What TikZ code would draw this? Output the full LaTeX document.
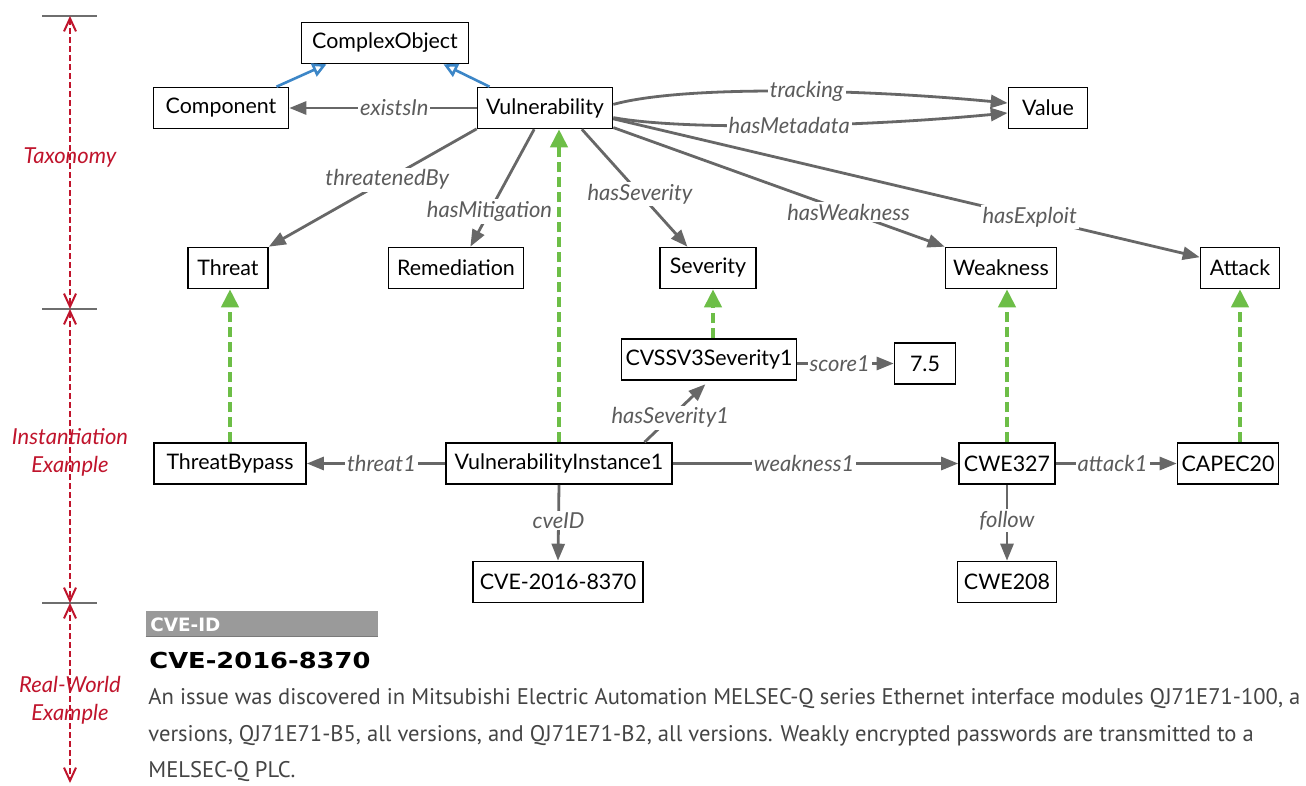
\documentclass[tikz,border=0pt]{standalone}
\usepackage{fontspec}
\setmainfont{Lato}
\newfontfamily\parafont{PT Sans}
\newfontfamily\headfont{DejaVu Sans}
\usetikzlibrary{arrows.meta,calc}

\definecolor{edgegray}{HTML}{676767}
\definecolor{labelgray}{HTML}{5C5C5C}
\definecolor{instgreen}{HTML}{6DBE47}
\definecolor{isablue}{HTML}{3C86C7}
\definecolor{scalered}{HTML}{C0142C}
\definecolor{tickgray}{HTML}{6E6E6E}
\definecolor{bargray}{HTML}{9A9A9A}
\definecolor{bardark}{HTML}{7A7A7A}
\definecolor{paragray}{HTML}{444444}

\tikzset{
  box/.style={draw=black, line width=0.8pt, fill=white, minimum height=20.5pt,
    inner xsep=2pt, inner ysep=0pt, font=\fontsize{10.7}{12}\selectfont},
  rel/.style={draw=edgegray, line width=1.4pt,
    -{Triangle[length=8.5pt,width=6.5pt]}},
  lbl/.style={fill=white, inner sep=1pt, text=labelgray,
    font=\fontsize{11}{12}\selectfont\itshape},
  inst/.style={draw=instgreen, line width=2pt, dash pattern=on 5pt off 2.5pt,
    -{Triangle[length=9pt,width=8.5pt]}},
  isa/.style={draw=isablue, line width=1.3pt,
    -{Triangle[open,length=7pt,width=7pt]}},
  span/.style={draw=scalered, line width=1pt, dash pattern=on 3pt off 1.5pt,
    {Straight Barb[length=6.5pt,width=6pt]}-{Straight Barb[length=6.5pt,width=6pt]}},
  tickline/.style={draw=tickgray, line width=1.2pt},
  layer/.style={text=scalered, align=center,
    font=\fontsize{11}{14}\selectfont\itshape},
  para/.style={anchor=base west, inner sep=0pt, text=paragray,
    font=\parafont\fontsize{11.3}{12}\selectfont},
}

\begin{document}
\begin{tikzpicture}[x=0.5pt, y=-0.5pt]
\useasboundingbox[fill=white] (0,0) rectangle (1306,786);

% ---------- taxonomy ----------
\node[box, minimum width=83.5pt] (CO)   at (385,43)  {ComplexObject};
\node[box, minimum width=67.5pt] (Comp) at (221,108) {Component};
\node[box, minimum width=67.5pt] (Vul)  at (545,108) {Vulnerability};
\node[box, minimum width=39.5pt] (Val)  at (1048,108) {Value};
\node[box, minimum width=40pt]   (Thr)  at (228,268) {Threat};
\node[box, minimum width=67.5pt] (Rem)  at (456,268) {Remediation};
\node[box, minimum width=48pt]   (Sev)  at (708,268) {Severity};
\node[box, minimum width=55.5pt] (Weak) at (1001,268) {Weakness};
\node[box, minimum width=39.5pt] (Att)  at (1240,268) {Attack};

% ---------- instances ----------
\node[box, minimum width=85pt]   (CVSS)   at (709,359.5) {CVSSV3Severity1};
\node[box, minimum width=30.5pt] (Score)  at (925,363.5) {7.5};
\node[box, minimum width=76pt]   (TB)     at (230,463.5) {ThreatBypass};
\node[box, minimum width=113pt]  (VI)     at (559,463.5) {VulnerabilityInstance1};
\node[box, minimum width=48pt]   (CWEa)   at (1007,463.5) {CWE327};
\node[box, minimum width=50.5pt] (CAPEC)  at (1228,463.5) {CAPEC20};
\node[box, minimum width=85pt]   (CVE)    at (558,582) {CVE-2016-8370};
\node[box, minimum width=49.5pt] (CWEb)   at (1007,582) {CWE208};

% ---------- subclass links ----------
\draw[isa] (Comp.21.5) -- (CO.200);
\draw[isa] (Vul.159) -- (CO.340);

% ---------- taxonomy relations ----------
\draw[rel] (Vul.west) -- (Comp.east) node[lbl, pos=0.44] {existsIn};
\draw[rel] (Vul.3) .. controls (680,86) and (850,88) .. (Val.173)
  node[lbl, pos=0.57] {tracking};
\draw[rel] (Vul.-8) .. controls (680,130) and (850,128) .. (Val.187)
  node[lbl, pos=0.53] {hasMetadata};
\draw[rel] (Vul.197) -- (Thr.north east) node[lbl, pos=0.43] {threatenedBy};
\draw[rel] (Vul.243) -- (Rem.56) node[lbl, pos=0.7] {hasMitigation};
\draw[rel] (Vul.330) -- (Sev.134) node[lbl, pos=0.55] {hasSeverity};
\draw[rel] (Vul.344) -- (Weak.north west) node[lbl, pos=0.71] {hasWeakness};
\draw[rel] (Vul.351.5) -- (Att.165) node[lbl, pos=0.71] {hasExploit};

% ---------- instance-of links ----------
\draw[inst] (TB.north) -- (TB.north |- Thr.south);
\draw[inst] (VI.north) -- (VI.north |- Vul.south);
\draw[inst] ($(CVSS.north -| Sev.south)+(5,0)$) -- ($(Sev.south)+(5,0)$);
\draw[inst] (CWEa.north) -- (CWEa.north |- Weak.south);
\draw[inst] (CAPEC.north -| Att.south) -- (Att.south);

% ---------- instance relations ----------
\draw[rel] (VI.west) -- (TB.east) node[lbl, pos=0.46] {threat1};
\draw[rel, shorten >=2.5pt] (VI.14) -- (CVSS.south) node[lbl, pos=0.4] {hasSeverity1};
\draw[rel] (CVSS.east |- Score.west) -- (Score.west) node[lbl, pos=0.44] {score1};
\draw[rel] (VI.east) -- (CWEa.west) node[lbl, pos=0.46] {weakness1};
\draw[rel] (CWEa.east) -- (CAPEC.west) node[lbl, pos=0.47] {attack1};
\draw[rel] (VI.south) -- (CVE.north) node[lbl, pos=0.47] {cveID};
\draw[rel] (CWEa.south) -- (CWEb.north) node[lbl, pos=0.47] {follow};

% ---------- layer scale ----------
\coordinate (s0) at (70,16);
\coordinate (s1) at (70,309);
\coordinate (s2) at (70,603);
\coordinate (s3) at (70,783);
\foreach \c in {s0,s1,s2}
  \draw[tickline] ($(\c)+(-28,0)$) -- ($(\c)+(27,0)$);
\draw[span] (s0) -- (s1);
\draw[span] (s1) -- (s2);
\draw[span] (s2) -- (s3);
\node[layer] (taxlab)  at (70,158) {Taxonomy};
\node[layer] (instlab) at (70,452) {Instantiation\\Example};
\node[layer] (reallab) at (70,700) {Real-World\\Example};

% ---------- real-world record ----------
\node[fill=bargray, minimum width=116pt, minimum height=12.5pt, inner sep=0pt]
  (bar) at (262,623.5) {};
\draw[bardark, line width=0.8pt] (bar.south west) -- (bar.south east);
\node[anchor=base west, inner sep=0pt, text=white,
  font=\headfont\bfseries\fontsize{9.2}{11}\selectfont]
  (barlab) at (150,631) {CVE-ID};
\node[anchor=base west, inner sep=0pt, text=black,
  font=\headfont\bfseries\fontsize{11}{13}\selectfont]
  (cvehead) at (149,668) {\scalebox{1.17}[1]{CVE-2016-8370}};
\node[para] (p1) at (148,704) {An issue was discovered in Mitsubishi Electric Automation MELSEC-Q series Ethernet interface modules QJ71E71-100, a};
\node[para] (p2) at (148,741) {versions, QJ71E71-B5, all versions, and QJ71E71-B2, all versions. Weakly encrypted passwords are transmitted to a};
\node[para] (p3) at (148,777) {MELSEC-Q PLC.};
\end{tikzpicture}
\end{document}
